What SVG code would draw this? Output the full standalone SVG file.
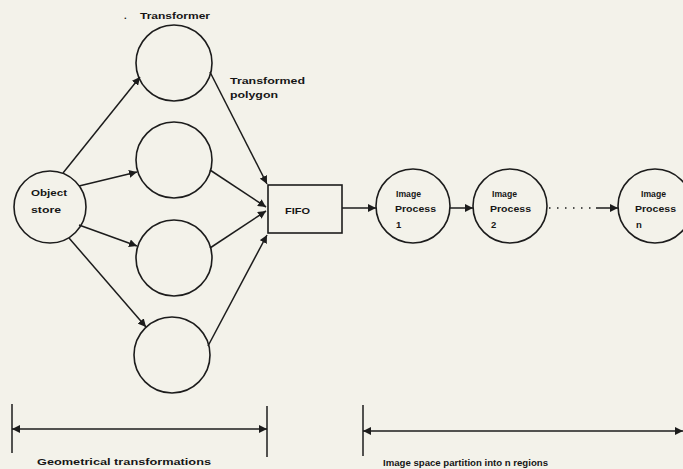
<svg xmlns="http://www.w3.org/2000/svg" width="683" height="469" viewBox="0 0 683 469">
<defs>
<marker id="ah" viewBox="0 0 10 10" refX="10" refY="5" markerWidth="8" markerHeight="8" markerUnits="userSpaceOnUse" orient="auto-start-reverse">
<path d="M0,0 L10,5 L0,10 z" fill="#1c1c1c"/>
</marker>
</defs>
<style>
.n{fill:none;stroke:#1c1c1c;stroke-width:1.6}
.c{fill:none;stroke:#1c1c1c;stroke-width:1.5}
.t{font-family:"Liberation Sans",Arial,sans-serif;font-weight:bold;font-size:9.5px;fill:#161616}
.s{font-size:8.5px}
</style>
<rect width="683" height="469" fill="#f3f2ea"/>
<g id="object-store">
<circle class="n" cx="50" cy="207" r="36"/>
<text class="t" x="31" y="196" textLength="36" lengthAdjust="spacingAndGlyphs">Object</text>
<text class="t" x="31" y="213" textLength="30" lengthAdjust="spacingAndGlyphs">store</text>
</g>
<g id="transformer-1">
<circle class="n" cx="174" cy="63" r="38"/>
</g>
<g id="transformer-2">
<circle class="n" cx="174" cy="160" r="38"/>
</g>
<g id="transformer-3">
<circle class="n" cx="174" cy="258" r="38"/>
</g>
<g id="transformer-4">
<circle class="n" cx="172" cy="355" r="38"/>
</g>
<g id="fifo">
<rect class="n" x="268" y="185" width="74" height="48"/>
<text class="t" x="285" y="214" textLength="25" lengthAdjust="spacingAndGlyphs">FIFO</text>
</g>
<g id="image-process-1">
<circle class="n" cx="413" cy="206" r="37"/>
<text class="t" x="396" y="197" textLength="25" lengthAdjust="spacingAndGlyphs">Image</text>
<text class="t" x="395" y="212" textLength="41" lengthAdjust="spacingAndGlyphs">Process</text>
<text class="t" x="396" y="228">1</text>
</g>
<g id="image-process-2">
<circle class="n" cx="510" cy="206" r="37"/>
<text class="t" x="492" y="197" textLength="25" lengthAdjust="spacingAndGlyphs">Image</text>
<text class="t" x="490" y="212" textLength="41" lengthAdjust="spacingAndGlyphs">Process</text>
<text class="t" x="491" y="228">2</text>
</g>
<g id="image-process-n">
<circle class="n" cx="655" cy="206" r="37"/>
<text class="t" x="641" y="197" textLength="25" lengthAdjust="spacingAndGlyphs">Image</text>
<text class="t" x="635" y="212" textLength="41" lengthAdjust="spacingAndGlyphs">Process</text>
<text class="t" x="636" y="228">n</text>
</g>
<g id="labels">
<text class="t" x="124" y="19" font-size="11">.</text>
<text class="t" x="140" y="19" textLength="70" lengthAdjust="spacingAndGlyphs">Transformer</text>
<text class="t" x="230" y="84" textLength="75" lengthAdjust="spacingAndGlyphs">Transformed</text>
<text class="t" x="230" y="98" textLength="48" lengthAdjust="spacingAndGlyphs">polygon</text>
<text class="t" x="37" y="465" textLength="174" lengthAdjust="spacingAndGlyphs">Geometrical transformations</text>
<text class="t s" x="383" y="466" textLength="165" lengthAdjust="spacingAndGlyphs">Image space partition into n regions</text>
</g>
<g id="connectors">
<line class="c" x1="63" y1="173" x2="140" y2="77" marker-end="url(#ah)"/>
<line class="c" x1="79" y1="186" x2="137" y2="172" marker-end="url(#ah)"/>
<line class="c" x1="79" y1="225" x2="137" y2="246" marker-end="url(#ah)"/>
<line class="c" x1="69" y1="238" x2="146" y2="327" marker-end="url(#ah)"/>
<line class="c" x1="210" y1="72" x2="267" y2="184" marker-end="url(#ah)"/>
<line class="c" x1="210" y1="170" x2="266" y2="207" marker-end="url(#ah)"/>
<line class="c" x1="210" y1="248" x2="266" y2="211" marker-end="url(#ah)"/>
<line class="c" x1="208" y1="346" x2="267" y2="235" marker-end="url(#ah)"/>
<line class="c" x1="342" y1="208" x2="376" y2="208" marker-end="url(#ah)"/>
<line class="c" x1="450" y1="208" x2="473" y2="208" marker-end="url(#ah)"/>
<line class="c" x1="549" y1="208" x2="594" y2="208" stroke-dasharray="1.5 6.5"/>
<line class="c" x1="596" y1="208" x2="618" y2="208" marker-end="url(#ah)"/>
</g>
<g id="dimension-lines">
<line class="c" x1="12" y1="404" x2="12" y2="453"/>
<line class="c" x1="267" y1="406" x2="267" y2="457"/>
<line class="c" x1="12" y1="429" x2="267" y2="429" marker-start="url(#ah)" marker-end="url(#ah)"/>
<line class="c" x1="363" y1="405" x2="363" y2="456"/>
<line class="c" x1="363" y1="431" x2="683" y2="431" marker-start="url(#ah)" marker-end="url(#ah)"/>
</g>
</svg>
